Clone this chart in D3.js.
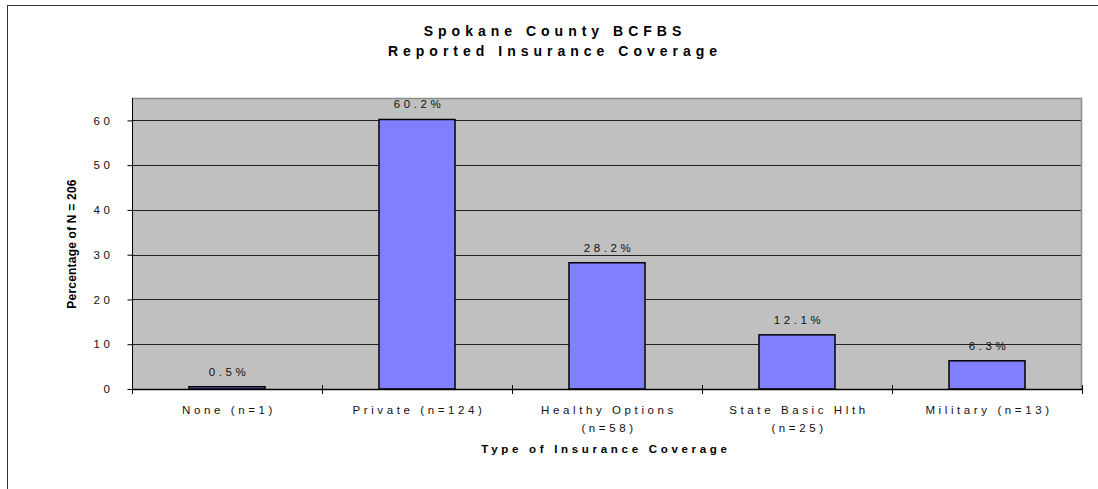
<!DOCTYPE html>
<html>
<head>
<meta charset="utf-8">
<script src="https://cdn.jsdelivr.net/npm/d3@7"></script>
<style>
  html, body { margin: 0; padding: 0; background: #fff; }
  svg { display: block; font-family: Arial, "Liberation Sans", sans-serif; }
</style>
</head>
<body>
<svg id="chart" width="1098" height="489"></svg>
<script>
// Insurance coverage categories (second line of a label after "\n")
const categories = [
  "None (n=1)",
  "Private (n=124)",
  "Healthy Options\n(n=58)",
  "State Basic Hlth\n(n=25)",
  "Military (n=13)"
];
// Percentage of N = 206 for each category
const percentages = [0.5, 60.2, 28.2, 12.1, 6.3];
const yTicks = [0, 10, 20, 30, 40, 50, 60];
const titleLines = ["Spokane County BCFBS", "Reported Insurance Coverage"];
const xTitle = "Type of Insurance Coverage";
const yTitle = "Percentage of N = 206";

const svg = d3.select("#chart");
const plot = { left: 132, right: 1082, top: 98, bottom: 389 };

// Outer chart frame
svg.append("rect")
  .attr("x", 7.5).attr("y", 5.5)
  .attr("width", 1200).attr("height", 600)
  .attr("fill", "#fff").attr("stroke", "#333").attr("stroke-width", 1);

const x = d3.scaleBand()
  .domain(categories)
  .range([plot.left, plot.right])
  .paddingInner(0.6).paddingOuter(0.3);

const y = d3.scaleLinear().domain([0, 65]).range([plot.bottom, plot.top]);

// Plot background
svg.append("rect")
  .attr("x", plot.left).attr("y", plot.top)
  .attr("width", plot.right - plot.left).attr("height", plot.bottom - plot.top)
  .attr("fill", "#c0c0c0");

// Gridlines
svg.append("g")
  .selectAll("line")
  .data(yTicks.filter(d => d > 0))
  .join("line")
  .attr("x1", plot.left).attr("x2", plot.right)
  .attr("y1", d => Math.round(y(d)) + 0.5).attr("y2", d => Math.round(y(d)) + 0.5)
  .attr("stroke", "#222").attr("stroke-width", 1);

// Top and right plot border
svg.append("path")
  .attr("d", `M${plot.left},${plot.top + 0.5}H${plot.right - 0.5}V${plot.bottom}`)
  .attr("fill", "none").attr("stroke", "#8c8c8c").attr("stroke-width", 1.5);

// Bars
svg.append("g")
  .selectAll("rect")
  .data(percentages)
  .join("rect")
  .attr("x", (d, i) => x(categories[i]))
  .attr("width", x.bandwidth())
  .attr("y", d => y(d))
  .attr("height", d => y(0) - y(d))
  .attr("fill", "#8080ff")
  .attr("stroke", "#000").attr("stroke-width", 1.5);

// Value labels
svg.append("g")
  .selectAll("text")
  .data(percentages)
  .join("text")
  .attr("x", (d, i) => x(categories[i]) + x.bandwidth() / 2 + 2)
  .attr("y", d => y(d) - 11)
  .attr("text-anchor", "middle")
  .attr("font-size", 11.5)
  .attr("letter-spacing", 3.6)
  .attr("fill", "#111")
  .text(d => d.toFixed(1) + "%");

// Y axis
const yAxis = svg.append("g")
  .attr("transform", `translate(${plot.left + 0.5},0)`)
  .call(d3.axisLeft(y).tickValues(yTicks).tickSize(5).tickPadding(14).tickFormat(d3.format("d")));
yAxis.select(".domain").attr("stroke", "#000").attr("d", `M0,${plot.top}V${plot.bottom}`);
yAxis.selectAll(".tick line").attr("stroke", "#000");
yAxis.selectAll(".tick text")
  .attr("font-size", 11.5).attr("letter-spacing", 3.6).attr("fill", "#111")
  .attr("font-family", "Arial, 'Liberation Sans', sans-serif");

// X axis line and ticks between categories
const boundaries = d3.range(categories.length + 1).map(i => plot.left + i * x.step() - x.step() * x.paddingOuter() + x.step() * x.paddingInner() / 2);
const xAxis = svg.append("g");
xAxis.append("line")
  .attr("x1", plot.left).attr("x2", plot.right)
  .attr("y1", plot.bottom + 0.5).attr("y2", plot.bottom + 0.5)
  .attr("stroke", "#000").attr("stroke-width", 1.5);
xAxis.selectAll("line.tick")
  .data(boundaries)
  .join("line")
  .attr("class", "tick")
  .attr("x1", d => Math.round(d) + 0.5).attr("x2", d => Math.round(d) + 0.5)
  .attr("y1", plot.bottom - 4).attr("y2", plot.bottom + 5)
  .attr("stroke", "#000");

// Category labels
const catText = svg.append("g")
  .selectAll("text")
  .data(categories)
  .join("text")
  .attr("x", d => x(d) + x.bandwidth() / 2 + 2)
  .attr("y", 414)
  .attr("text-anchor", "middle")
  .attr("font-size", 11.5)
  .attr("letter-spacing", 3.6)
  .attr("fill", "#111");
catText.selectAll("tspan")
  .data(d => d.split("\n").map(s => ({ s, cx: x(d) + x.bandwidth() / 2 + 2 })))
  .join("tspan")
  .attr("x", d => d.cx)
  .attr("dy", (d, i) => i === 0 ? 0 : 17.5)
  .text(d => d.s);

// Titles
svg.append("text")
  .attr("x", 555).attr("y", 35.5)
  .attr("text-anchor", "middle")
  .attr("font-size", 14).attr("font-weight", "bold")
  .attr("letter-spacing", 5.0)
  .selectAll("tspan")
  .data(titleLines)
  .join("tspan")
  .attr("x", 555)
  .attr("dy", (d, i) => i === 0 ? 0 : 20.5)
  .text(d => d);

svg.append("text")
  .attr("x", 606).attr("y", 453)
  .attr("text-anchor", "middle")
  .attr("font-size", 11.5).attr("font-weight", "bold")
  .attr("letter-spacing", 3.7)
  .text(xTitle);

svg.append("text")
  .attr("transform", `translate(76,244) rotate(-90)`)
  .attr("text-anchor", "middle")
  .attr("font-size", 12).attr("font-weight", "bold")
  .attr("letter-spacing", 0.2)
  .text(yTitle);
</script>
</body>
</html>
